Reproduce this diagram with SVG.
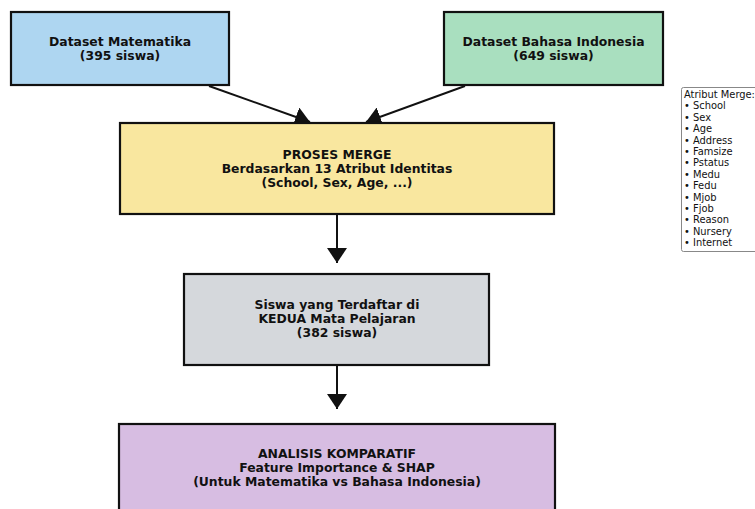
<svg xmlns="http://www.w3.org/2000/svg" width="755" height="509" viewBox="0 0 755 509">
<style>
.box{stroke:#111;stroke-width:2.2}
.t{font-family:"DejaVu Sans",sans-serif;font-weight:bold;font-size:12.4px;fill:#111;text-anchor:middle}
.lg{font-family:"DejaVu Sans",sans-serif;font-size:9.9px;fill:#111}
.c{stroke:#111;stroke-width:2;fill:none}
</style>
<defs>
<marker id="ah" markerWidth="20" markerHeight="20" refX="15" refY="10" orient="auto" markerUnits="userSpaceOnUse">
<path d="M0,0 L15,10 L0,20 Z" fill="#111"/>
</marker>
</defs>
<rect width="755" height="509" fill="#fff"/>
<g id="connectors">
<line class="c" x1="209" y1="86" x2="310" y2="122" marker-end="url(#ah)"/>
<line class="c" x1="465" y1="86" x2="366" y2="122" marker-end="url(#ah)"/>
<line class="c" x1="337" y1="214" x2="337" y2="263" marker-end="url(#ah)"/>
<line class="c" x1="337" y1="365" x2="337" y2="409" marker-end="url(#ah)"/>
</g>
<g id="dataset-mat">
<rect class="box" x="11" y="12" width="218" height="73" fill="#aed6f1"/>
<text class="t" x="120" y="46">Dataset Matematika</text>
<text class="t" x="120" y="60">(395 siswa)</text>
</g>
<g id="dataset-bind">
<rect class="box" x="444" y="12" width="219" height="73" fill="#a9dfbf"/>
<text class="t" x="553.5" y="46">Dataset Bahasa Indonesia</text>
<text class="t" x="553.5" y="60">(649 siswa)</text>
</g>
<g id="merge">
<rect class="box" x="120" y="123" width="434" height="91" fill="#f9e79f"/>
<text class="t" x="337" y="159">PROSES MERGE</text>
<text class="t" x="337" y="173">Berdasarkan 13 Atribut Identitas</text>
<text class="t" x="337" y="187">(School, Sex, Age, ...)</text>
</g>
<g id="both">
<rect class="box" x="184" y="274" width="305" height="91" fill="#d5d8dc"/>
<text class="t" x="337" y="309">Siswa yang Terdaftar di</text>
<text class="t" x="337" y="323">KEDUA Mata Pelajaran</text>
<text class="t" x="337" y="337">(382 siswa)</text>
</g>
<g id="analysis">
<rect class="box" x="119" y="424" width="436" height="100" fill="#d7bde2"/>
<text class="t" x="337" y="458">ANALISIS KOMPARATIF</text>
<text class="t" x="337" y="472">Feature Importance &amp; SHAP</text>
<text class="t" x="337" y="486">(Untuk Matematika vs Bahasa Indonesia)</text>
</g>
<g id="legend">
<rect x="681.5" y="87.5" width="80" height="164" rx="2" fill="#fff" stroke="#888" stroke-width="1"/>
<text class="lg" x="684" y="98">Atribut Merge:</text>
<text class="lg" x="684" y="109.4">• School</text>
<text class="lg" x="684" y="120.8">• Sex</text>
<text class="lg" x="684" y="132.2">• Age</text>
<text class="lg" x="684" y="143.6">• Address</text>
<text class="lg" x="684" y="155">• Famsize</text>
<text class="lg" x="684" y="166.4">• Pstatus</text>
<text class="lg" x="684" y="177.8">• Medu</text>
<text class="lg" x="684" y="189.2">• Fedu</text>
<text class="lg" x="684" y="200.6">• Mjob</text>
<text class="lg" x="684" y="212">• Fjob</text>
<text class="lg" x="684" y="223.4">• Reason</text>
<text class="lg" x="684" y="234.8">• Nursery</text>
<text class="lg" x="684" y="246.2">• Internet</text>
</g>
</svg>
